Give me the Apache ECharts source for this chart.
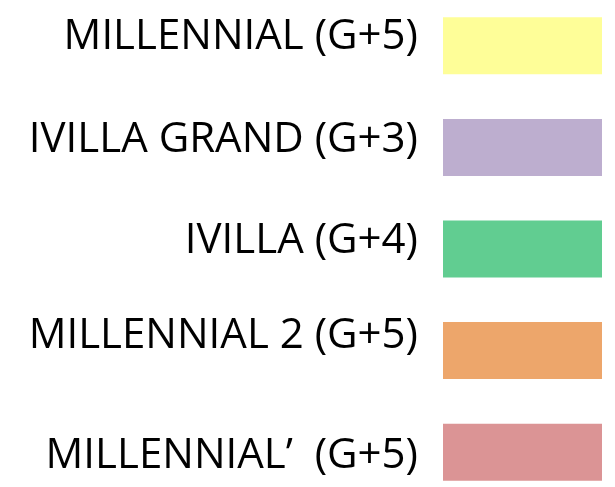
<!DOCTYPE html>
<html><head><meta charset="utf-8">
<script src="https://cdn.jsdelivr.net/npm/echarts@6/dist/echarts.min.js"></script>
<style>html,body{margin:0;padding:0;background:#fff}#c{width:615px;height:487px}</style>
</head><body><div id="c"></div>
<script>
const categories = ['MILLENNIAL (G+5)', 'IVILLA GRAND (G+3)', 'IVILLA (G+4)', 'MILLENNIAL 2 (G+5)', 'MILLENNIAL’  (G+5)'];
const values = [1, 1, 1, 1, 1];
const colors = ['#FEFE98', '#BDAECF', '#61CD91', '#EDA66B', '#DB9495'];

const labelPad = [[0, 0, 17, 0], [0, 0, 15, 0], [0, 0, 16, 0], [0, 0, 30, 0], [7, 0, 0, 0]];
const rich = {};
labelPad.forEach((p, i) => {
  rich['r' + i] = {fontFamily: 'Open Sans', fontSize: 42, color: '#000', padding: p};
});

const chart = echarts.init(document.getElementById('c'), null, {renderer: 'canvas'});
chart.setOption({
  animation: false,
  grid: {left: 443, width: 159, top: -5, height: 508, outerBoundsMode: 'none', containLabel: false},
  xAxis: {type: 'value', min: 0, max: 1, show: false},
  yAxis: {
    type: 'category', data: categories, inverse: true,
    axisLine: {show: false}, axisTick: {show: false},
    axisLabel: {
      fontFamily: 'Open Sans', fontSize: 42, color: '#000', margin: 25, verticalAlign: 'middle',
      formatter: (v, i) => '{r' + i + '|' + v + '}', rich: rich
    }
  },
  series: [{
    type: 'bar', barWidth: 57,
    data: values.map((v, i) => ({value: v, itemStyle: {color: colors[i]}}))
  }]
});
</script></body></html>
